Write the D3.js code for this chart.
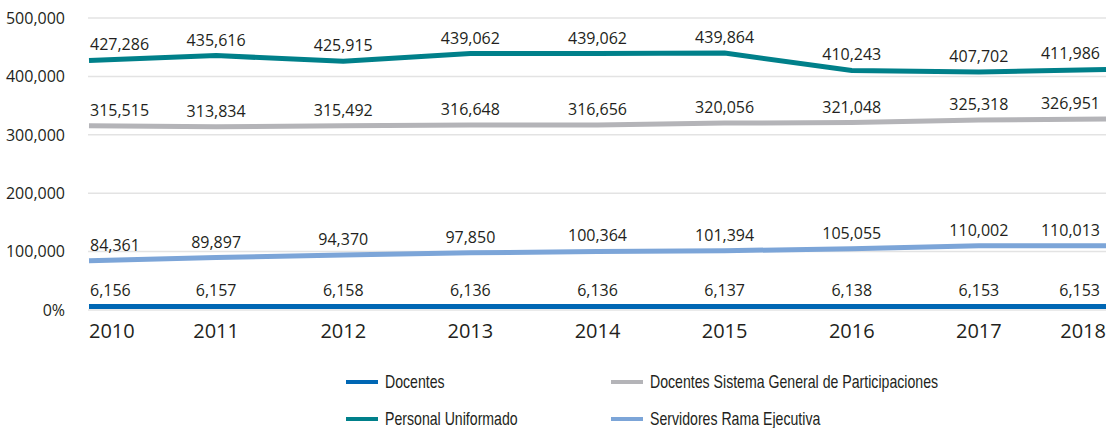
<!DOCTYPE html>
<html>
<head>
<meta charset="utf-8">
<script src="https://cdn.jsdelivr.net/npm/d3@7"></script>
<style>
  body { margin: 0; background: #fff; }
  text { fill: #231f20; }
</style>
</head>
<body>
<script>
var width = 1114,
    height = 428;

// data
var years = ["2010", "2011", "2012", "2013", "2014", "2015", "2016", "2017", "2018"];
var docentes   = [6156, 6157, 6158, 6136, 6136, 6137, 6138, 6153, 6153];
var sgp        = [315515, 313834, 315492, 316648, 316656, 320056, 321048, 325318, 326951];
var uniformado = [427286, 435616, 425915, 439062, 439062, 439864, 410243, 407702, 411986];
var servidores = [84361, 89897, 94370, 97850, 100364, 101394, 105055, 110002, 110013];
var yTicks = [0, 100000, 200000, 300000, 400000, 500000];

var series = [
  { name: "Docentes", values: docentes, color: "#0067b4" },
  { name: "Docentes Sistema General de Participaciones", values: sgp, color: "#b4b4b8" },
  { name: "Personal Uniformado", values: uniformado, color: "#00808a" },
  { name: "Servidores Rama Ejecutiva", values: servidores, color: "#7ca5d8" }
];

var x = d3.scalePoint().domain(years).range([89, 1106]);
var y = d3.scaleLinear().domain([0, 500000]).range([310, 18]);

var svg = d3.select("body").append("svg")
    .attr("width", width)
    .attr("height", height);

// gridlines
svg.append("g").selectAll("line")
  .data(yTicks)
  .enter().append("line")
    .attr("x1", 88).attr("x2", 1106)
    .attr("y1", function(d) { return y(d); })
    .attr("y2", function(d) { return y(d); })
    .attr("stroke", "#e3e3e3")
    .attr("stroke-width", 1.5);

// y axis labels
var fmt = d3.format(",");
svg.append("g").selectAll("text")
  .data(yTicks)
  .enter().append("text")
    .attr("x", 65)
    .attr("y", function(d) { return y(d); })
    .attr("dy", "0.36em")
    .attr("text-anchor", "end")
    .style("font", "16px 'Open Sans'")
    .text(function(d) { return d === 0 ? "0%" : fmt(d); });

// x axis labels
function anchor(i) { return i === 0 ? "start" : i === years.length - 1 ? "end" : "middle"; }

svg.append("g").selectAll("text")
  .data(years)
  .enter().append("text")
    .attr("x", function(d) { return x(d); })
    .attr("y", 338)
    .attr("text-anchor", function(d, i) { return anchor(i); })
    .style("font", "20px 'Open Sans'")
    .text(function(d) { return d; });

var line = d3.line()
    .x(function(d, i) { return x(years[i]); })
    .y(function(d) { return y(d); });

var g = svg.selectAll(".series")
  .data(series)
  .enter().append("g")
    .attr("class", "series");

g.append("path")
    .attr("d", function(d) { return line(d.values); })
    .attr("fill", "none")
    .attr("stroke", function(d) { return d.color; })
    .attr("stroke-width", 5);

g.selectAll("text")
  .data(function(d) { return d.values; })
  .enter().append("text")
    .attr("x", function(d, i) { return x(years[i]) + (i === 0 ? 1 : i === years.length - 1 ? -6 : 0); })
    .attr("y", function(d) { return y(d) - 10; })
    .attr("text-anchor", function(d, i) { return anchor(i); })
    .style("font", "16px 'Open Sans'")
    .text(function(d) { return fmt(d); });

// legend
var legend = svg.append("g").selectAll("g")
  .data(series)
  .enter().append("g")
    .attr("transform", function(d, i) {
      return "translate(" + (i % 2 ? 611 : 346) + "," + (i < 2 ? 382 : 419) + ")";
    });

legend.append("line")
    .attr("x1", 0).attr("x2", 32)
    .attr("stroke", function(d) { return d.color; })
    .attr("stroke-width", 4);

// narrow face: Liberation Sans squeezed horizontally
legend.append("text")
    .attr("transform", "translate(39,0) scale(0.785,1)")
    .attr("dy", "0.35em")
    .style("font", "18px 'Liberation Sans', sans-serif")
    .text(function(d) { return d.name; });
</script>
</body>
</html>
